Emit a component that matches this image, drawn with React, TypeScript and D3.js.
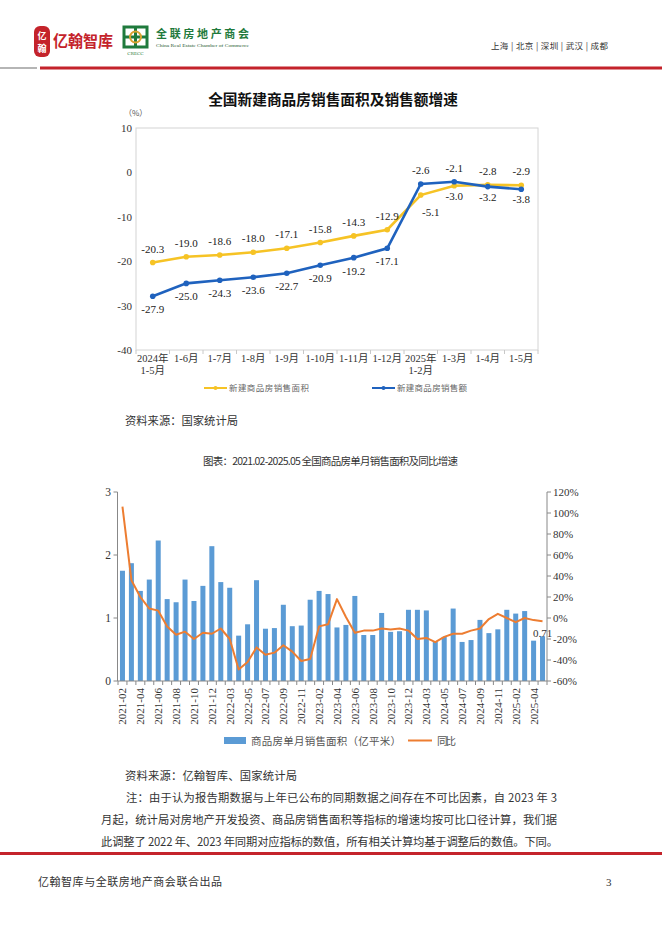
import React from 'react';
import * as d3 from 'd3';

// ---------- Chart 1 data ----------
const cumCategories = ['2024年\n1-5月', '1-6月', '1-7月', '1-8月', '1-9月', '1-10月', '1-11月', '1-12月', '2025年\n1-2月', '1-3月', '1-4月', '1-5月'];
const areaGrowth = [-20.3, -19.0, -18.6, -18.0, -17.1, -15.8, -14.3, -12.9, -5.1, -3.0, -2.8, -2.9];
const salesGrowth = [-27.9, -25.0, -24.3, -23.6, -22.7, -20.9, -19.2, -17.1, -2.6, -2.1, -3.2, -3.8];
const chart1Ticks = [10, 0, -10, -20, -30, -40];

// ---------- Chart 2 data ----------
const months = [
  '2021-02', '2021-03', '2021-04', '2021-05', '2021-06', '2021-07', '2021-08', '2021-09', '2021-10', '2021-11', '2021-12',
  '2022-02', '2022-03', '2022-04', '2022-05', '2022-06', '2022-07', '2022-08', '2022-09', '2022-10', '2022-11', '2022-12',
  '2023-02', '2023-03', '2023-04', '2023-05', '2023-06', '2023-07', '2023-08', '2023-09', '2023-10', '2023-11', '2023-12',
  '2024-02', '2024-03', '2024-04', '2024-05', '2024-06', '2024-07', '2024-08', '2024-09', '2024-10', '2024-11', '2024-12',
  '2025-02', '2025-03', '2025-04', '2025-05',
];
const monthlyArea = [
  1.75, 1.87, 1.43, 1.61, 2.23, 1.30, 1.25, 1.61, 1.27, 1.51, 2.14,
  1.57, 1.48, 0.72, 0.90, 1.60, 0.83, 0.84, 1.21, 0.87, 0.88, 1.29,
  1.43, 1.38, 0.85, 0.89, 1.35, 0.73, 0.73, 1.08, 0.78, 0.79, 1.13,
  1.13, 1.12, 0.63, 0.70, 1.15, 0.62, 0.65, 0.97, 0.76, 0.82, 1.13,
  1.07, 1.11, 0.64, 0.71,
];
const monthlyYoY = [
  106, 36, 20, 9, 7, -8, -16, -13, -20, -14, -15,
  -10, -20, -49, -42, -28, -35, -33, -26, -32, -41, -39,
  -8, -6, 18, 1, -14, -12, -12, -10, -11, -10, -12,
  -20, -19, -23, -18, -15, -15, -12, -10, -1, 4, 0,
  -4, 0, -2, -3,
];
const leftTicks = [0, 1, 2, 3];
const rightTicks = [120, 100, 80, 60, 40, 20, 0, -20, -40, -60];

const noteLines = [
  '注：由于认为报告期数据与上年已公布的同期数据之间存在不可比因素，自 2023 年 3',
  '月起，统计局对房地产开发投资、商品房销售面积等指标的增速均按可比口径计算，我们据',
  '此调整了 2022 年、2023 年同期对应指标的数值，所有相关计算均基于调整后的数值。下同。',
];
const cities = '上海 | 北京 | 深圳 | 武汉 | 成都';

const SERIF = "'Liberation Serif','Times New Roman','Noto Sans CJK SC',serif";
const CJK = "'Noto Sans CJK SC','Noto Sans',sans-serif";
const YELLOW = '#F6C325';
const BLUE = '#1F62BE';
const BAR = '#5B9BD5';
const ORANGE = '#ED7D31';
const RED = '#C4232B';

export default function App() {
  // chart 1 scales
  const x1 = d3.scaleBand<string>().domain(cumCategories).range([136, 538]);
  const bw1 = x1.bandwidth();
  const cx1 = (i: number) => (x1(cumCategories[i]) as number) + bw1 / 2;
  const y1 = d3.scaleLinear().domain([-40, 10]).range([350, 128]);
  const line1 = d3.line<number>().x((_, i) => cx1(i)).y((d) => y1(d));

  // chart 2 scales
  const x2 = d3.scaleBand<string>().domain(months).range([118, 547]).paddingInner(0.44).paddingOuter(0.22);
  const step2 = x2.step();
  const cx2 = (i: number) => (x2(months[i]) as number) + x2.bandwidth() / 2;
  const yL = d3.scaleLinear().domain([0, 3]).range([681, 492]);
  const yR = d3.scaleLinear().domain([-60, 120]).range([681, 492]);
  const line2 = d3.line<number>().x((_, i) => cx2(i)).y((d) => yR(d));

  const labelPos = (series: number[], other: number[], i: number) => {
    const above = series[i] >= other[i];
    const py = y1(series[i]);
    if (above) return { x: cx1(i), y: py - 10 };
    const dx = i === 8 ? 10 : 0;
    const dy = i === 8 ? 21 : i >= 9 ? 14 : 17;
    return { x: cx1(i) + dx, y: py + dy };
  };

  const lastIdx = months.length - 1;

  return (
    <svg width={662} height={936} style={{ position: 'absolute', left: 0, top: 0, background: '#fff' }}>
      <rect x={0} y={0} width={662} height={936} fill="#fff" />

      {/* ---------- header ---------- */}
      <g>
        <rect x={34} y={26} width={16} height={31} rx={6} fill={RED} />
        <text x={42} y={39} fontSize={9} fontFamily={CJK} fontWeight={700} fill="#fff" textAnchor="middle">亿</text>
        <text x={42} y={52} fontSize={9} fontFamily={CJK} fontWeight={700} fill="#fff" textAnchor="middle">翰</text>
        <text x={53} y={47} fontSize={16} fontFamily={CJK} fontWeight={700} fill={RED} textLength={60} lengthAdjust="spacingAndGlyphs">亿翰智库</text>

        <rect x={124} y={27} width={23} height={20} fill="none" stroke="#1F7A3C" strokeWidth={3} />
        <line x1={135.5} y1={27} x2={135.5} y2={47} stroke="#1F7A3C" strokeWidth={3} />
        <line x1={124} y1={37} x2={147} y2={37} stroke="#1F7A3C" strokeWidth={3} />
        <circle cx={135.5} cy={37} r={5.5} fill="none" stroke="#D9A330" strokeWidth={2} />
        <text x={135.5} y={55} fontSize={5} fontFamily={SERIF} fill="#1F7A3C" textAnchor="middle">CRECC</text>
        <text x={156} y={38} fontSize={11} fontFamily={SERIF} fontWeight={700} fill="#1F7A3C" textLength={93} lengthAdjust="spacing">全联房地产商会</text>
        <text x={156} y={47} fontSize={4.6} fontFamily={SERIF} fill="#1F5A30" textLength={93} lengthAdjust="spacingAndGlyphs">China Real Estate Chamber of Commerce</text>

        <text x={491} y={49} fontSize={8.5} fontFamily={CJK} fill="#333" textLength={117} lengthAdjust="spacing">{cities}</text>
        <line x1={0} y1={68} x2={37} y2={68} stroke="#B5B5B5" strokeWidth={2} />
        <line x1={40} y1={68} x2={662} y2={68} stroke={RED} strokeWidth={3} />
      </g>

      {/* ---------- chart 1 ---------- */}
      <g>
        <text x={333} y={105} fontSize={14.7} fontFamily={CJK} fontWeight={700} fill="#111" textAnchor="middle">全国新建商品房销售面积及销售额增速</text>
        <text x={124} y={116} fontSize={8} fontFamily={CJK} fill="#555">（%）</text>
        <rect x={136} y={128} width={402} height={222} fill="none" stroke="#D4D4D4" strokeWidth={1} />
        {chart1Ticks.map((t) => (
          <text key={t} x={132} y={y1(t) + 4} fontSize={11} fontFamily={SERIF} fill="#333" textAnchor="end">{t}</text>
        ))}
        {d3.range(cumCategories.length + 1).map((k) => (
          <line key={k} x1={136 + k * bw1} x2={136 + k * bw1} y1={350} y2={354} stroke="#C8C8C8" />
        ))}
        {cumCategories.map((c, i) => (
          <text key={c} x={cx1(i)} y={362} fontSize={10.5} fontFamily={SERIF} fill="#333" textAnchor="middle">
            {c.split('\n').map((s, j) => (
              <tspan key={j} x={cx1(i)} dy={j === 0 ? 0 : 12}>{s}</tspan>
            ))}
          </text>
        ))}
        <path d={line1(areaGrowth) as string} fill="none" stroke={YELLOW} strokeWidth={2.6} />
        <path d={line1(salesGrowth) as string} fill="none" stroke={BLUE} strokeWidth={2.6} />
        {areaGrowth.map((v, i) => (
          <circle key={'a' + i} cx={cx1(i)} cy={y1(v)} r={2.8} fill={YELLOW} />
        ))}
        {salesGrowth.map((v, i) => (
          <circle key={'s' + i} cx={cx1(i)} cy={y1(v)} r={2.8} fill={BLUE} />
        ))}
        {areaGrowth.map((v, i) => {
          const p = labelPos(areaGrowth, salesGrowth, i);
          return <text key={'la' + i} x={p.x} y={p.y} fontSize={11} fontFamily={SERIF} fill="#222" textAnchor="middle">{v.toFixed(1)}</text>;
        })}
        {salesGrowth.map((v, i) => {
          const p = labelPos(salesGrowth, areaGrowth, i);
          return <text key={'ls' + i} x={p.x} y={p.y} fontSize={11} fontFamily={SERIF} fill="#222" textAnchor="middle">{v.toFixed(1)}</text>;
        })}
        {/* legend */}
        <line x1={204} x2={227} y1={388} y2={388} stroke={YELLOW} strokeWidth={2} />
        <circle cx={215.5} cy={388} r={2} fill={YELLOW} />
        <text x={229} y={391} fontSize={8.5} fontFamily={CJK} fill="#666" textLength={80} lengthAdjust="spacing">新建商品房销售面积</text>
        <line x1={372} x2={395} y1={388} y2={388} stroke={BLUE} strokeWidth={2} />
        <circle cx={383.5} cy={388} r={2} fill={BLUE} />
        <text x={397} y={391} fontSize={8.5} fontFamily={CJK} fill="#666" textLength={70} lengthAdjust="spacing">新建商品房销售额</text>
      </g>

      <text x={125} y={425} fontSize={11.3} fontFamily={CJK} fill="#333" textLength={113} lengthAdjust="spacing">资料来源：国家统计局</text>

      {/* ---------- chart 2 ---------- */}
      <g>
        <text x={330.5} y={465} fontSize={10.5} fontFamily={CJK} fill="#333" textAnchor="middle" textLength={255} lengthAdjust="spacing">图表：2021.02-2025.05 全国商品房单月销售面积及同比增速</text>
        {monthlyArea.map((v, i) => (
          <rect key={months[i]} x={x2(months[i])} y={yL(v)} width={x2.bandwidth()} height={681 - yL(v)} fill={BAR} />
        ))}
        <path d={line2(monthlyYoY) as string} fill="none" stroke={ORANGE} strokeWidth={2} strokeLinejoin="round" />

        {/* left axis */}
        <line x1={117.5} x2={117.5} y1={492} y2={681} stroke="#888" />
        {leftTicks.map((t) => (
          <g key={t}>
            <line x1={113.5} x2={117.5} y1={yL(t)} y2={yL(t)} stroke="#888" />
            <text x={111} y={yL(t) + 4} fontSize={11.5} fontFamily={SERIF} fill="#333" textAnchor="end">{t}</text>
          </g>
        ))}
        {/* right axis */}
        <line x1={547} x2={547} y1={492} y2={681} stroke="#888" />
        {rightTicks.map((t) => (
          <g key={t}>
            <line x1={547} x2={551} y1={yR(t)} y2={yR(t)} stroke="#888" />
            <text x={553} y={yR(t) + 4} fontSize={11} fontFamily={SERIF} fill="#333">{t + '%'}</text>
          </g>
        ))}
        {/* x axis */}
        <line x1={117.5} x2={547} y1={681} y2={681} stroke="#888" />
        {d3.range(months.length + 1).map((k) => (
          <line key={k} x1={118 + k * step2} x2={118 + k * step2} y1={681} y2={685} stroke="#888" />
        ))}
        {months.map((m, i) =>
          i % 2 === 0 ? (
            <text key={m} transform={`translate(${cx2(i) + 4},${688}) rotate(-90)`} fontSize={11} fontFamily={SERIF} fill="#333" textAnchor="end">{m}</text>
          ) : null
        )}
        <text x={cx2(lastIdx)} y={yL(monthlyArea[lastIdx]) + 1} fontSize={11} fontFamily={SERIF} fill="#333" textAnchor="middle">{monthlyArea[lastIdx].toFixed(2)}</text>

        {/* legend */}
        <rect x={224} y={737} width={22} height={7} fill={BAR} />
        <text x={251} y={744.5} fontSize={10.5} fontFamily={CJK} fill="#555" textLength={150} lengthAdjust="spacing">商品房单月销售面积（亿平米）</text>
        <line x1={408} x2={432} y1={740.5} y2={740.5} stroke={ORANGE} strokeWidth={2} />
        <text x={437} y={744.5} fontSize={10.5} fontFamily={CJK} fill="#555" textLength={19} lengthAdjust="spacing">同比</text>
      </g>

      <text x={125} y={780} fontSize={11.3} fontFamily={CJK} fill="#333" textLength={172} lengthAdjust="spacing">资料来源：亿翰智库、国家统计局</text>

      {/* notes */}
      <text x={126} y={802} fontSize={11.3} fontFamily={CJK} fill="#333" textLength={431} lengthAdjust="spacing">{noteLines[0]}</text>
      <text x={101} y={824} fontSize={11.3} fontFamily={CJK} fill="#333" textLength={456} lengthAdjust="spacing">{noteLines[1]}</text>
      <text x={101} y={846} fontSize={11.3} fontFamily={CJK} fill="#333" textLength={457} lengthAdjust="spacing">{noteLines[2]}</text>

      {/* footer */}
      <line x1={0} x2={662} y1={853.5} y2={853.5} stroke={RED} strokeWidth={3} />
      <text x={38} y={886} fontSize={11} fontFamily={CJK} fill="#333" textLength={184} lengthAdjust="spacing">亿翰智库与全联房地产商会联合出品</text>
      <text x={606} y={886} fontSize={11} fontFamily={SERIF} fill="#333">3</text>
    </svg>
  );
}
